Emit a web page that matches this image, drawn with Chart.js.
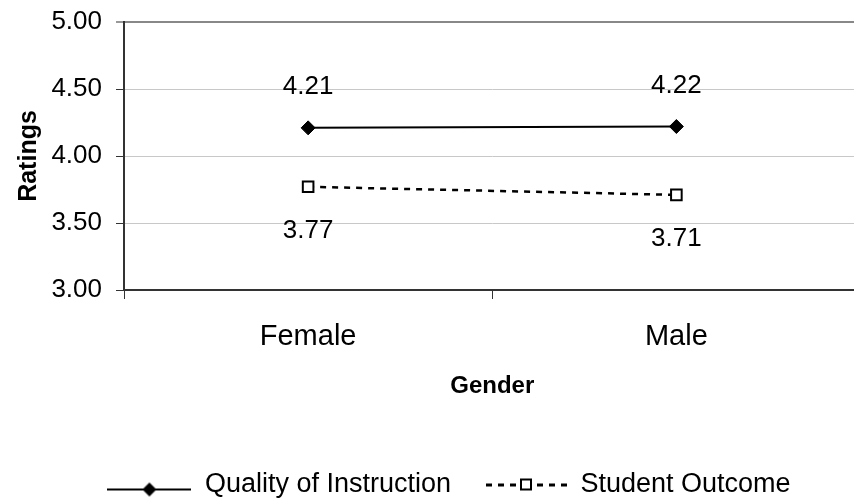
<!DOCTYPE html>
<html>
<head>
<meta charset="utf-8">
<script src="https://cdn.jsdelivr.net/npm/chart.js@4"></script>
<style>
  html, body { margin: 0; padding: 0; background: #fff; overflow: hidden; }
  #wrap { width: 870px; height: 508px; }
</style>
</head>
<body>
<div id="wrap"><canvas id="ratingsChart"></canvas></div>
<script>
const genders = ['Female', 'Male'];
const qualityOfInstruction = [4.21, 4.22];
const studentOutcome = [3.77, 3.71];
const ratingTicks = [3.00, 3.50, 4.00, 4.50, 5.00];

Chart.defaults.font.family = '"Liberation Sans", Arial, sans-serif';
Chart.defaults.color = '#000';

// legend swatches: line with marker, like the spreadsheet legend
function legendIcon(kind) {
  let c = document.createElement('canvas');
  c.width = 84;
  c.height = 40;
  let g = c.getContext('2d');
  g.fillStyle = '#000';
  if (kind === 'diamond') {
    g.fillRect(0, 24, 84, 2);
    g.beginPath();
    g.moveTo(42, 18); g.lineTo(49, 25); g.lineTo(42, 32); g.lineTo(35, 25);
    g.closePath();
    g.fill();
  } else {
    [3, 15, 27, 54, 66, 78].forEach(x => g.fillRect(x, 19, 6, 3));
    g.fillStyle = '#fff';
    g.fillRect(38, 15, 10, 10);
    g.strokeStyle = '#000';
    g.lineWidth = 2;
    g.strokeRect(38, 15, 10, 10);
  }
  return c;
}
const legendIcons = [legendIcon('diamond'), legendIcon('square')];

const valueLabels = {
  id: 'valueLabels',
  afterDatasetsDraw(chart) {
    let ctx = chart.ctx;
    ctx.save();
    ctx.font = '26px "Liberation Sans", Arial, sans-serif';
    ctx.fillStyle = '#000';
    ctx.textAlign = 'center';
    ctx.textBaseline = 'alphabetic';
    chart.data.datasets.forEach((ds, i) => {
      chart.getDatasetMeta(i).data.forEach((pt, j) => {
        ctx.fillText(ds.data[j].toFixed(2), pt.x, pt.y + ds.labelOffset);
      });
    });
    ctx.restore();
  }
};

// nudge the legend a little right, as in the original
const legendShift = {
  id: 'legendShift',
  afterLayout(chart) {
    chart.legend.left += 18;
    chart.legend.right += 18;
  }
};

let ctx = document.getElementById('ratingsChart').getContext('2d');
let ratingsChart = new Chart(ctx, {
  type: 'line',
  data: {
    labels: genders,
    datasets: [{
      label: 'Quality of Instruction',
      data: qualityOfInstruction,
      borderColor: '#000',
      borderWidth: 2,
      pointStyle: 'rectRot',
      pointRadius: 7,
      pointBackgroundColor: '#000',
      pointBorderColor: '#000',
      pointBorderWidth: 1,
      labelOffset: -34
    }, {
      label: 'Student Outcome',
      data: studentOutcome,
      borderColor: '#000',
      borderWidth: 2.5,
      borderDash: [6, 6],
      pointStyle: 'rect',
      pointRadius: 7.5,
      pointBackgroundColor: '#fff',
      pointBorderColor: '#000',
      pointBorderWidth: 2,
      labelOffset: 51
    }]
  },
  options: {
    responsive: true,
    maintainAspectRatio: false,
    animation: false,
    layout: {
      padding: { top: 22, right: 8, bottom: 0, left: 0 }
    },
    scales: {
      x: {
        offset: true,
        afterFit: (scale) => { scale.height = 149; },
        grid: {
          offset: true,
          drawOnChartArea: false,
          tickLength: 9,
          tickColor: '#333',
          tickWidth: 1
        },
        border: { color: '#333', width: 2 },
        ticks: { padding: 21, font: { size: 29 } },
        title: {
          display: true,
          text: 'Gender',
          font: { size: 24, weight: 'bold' },
          padding: { top: 0, bottom: 38 }
        }
      },
      y: {
        min: ratingTicks[0],
        max: ratingTicks[ratingTicks.length - 1],
        afterFit: (scale) => {
          scale.width = 124;
          scale.paddingTop = 0;
          scale.paddingBottom = 0;
        },
        afterBuildTicks: (scale) => { scale.ticks = ratingTicks.map(v => ({ value: v })); },
        grid: {
          color: (c) => c.tick && c.tick.value === 5 ? '#888' : '#c8c8c8',
          lineWidth: (c) => c.tick && c.tick.value === 5 ? 2 : 1,
          tickLength: 8,
          tickColor: '#333',
          tickWidth: 1
        },
        border: { color: '#333', width: 2 },
        ticks: {
          padding: 14,
          font: { size: 26 },
          callback: (v) => Number(v).toFixed(2)
        },
        title: {
          display: true,
          text: 'Ratings',
          font: { size: 25, weight: 'bold' },
          padding: { top: 14, bottom: 0 }
        }
      }
    },
    plugins: {
      tooltip: { enabled: false },
      legend: {
        display: true,
        position: 'bottom',
        labels: {
          usePointStyle: true,
          pointStyleWidth: 84,
          padding: 32,
          color: '#000',
          font: { size: 27 },
          generateLabels: (chart) => chart.data.datasets.map((ds, i) => ({
            text: ds.label,
            pointStyle: legendIcons[i],
            datasetIndex: i,
            fillStyle: 'transparent',
            strokeStyle: 'transparent',
            lineWidth: 0,
            hidden: false,
            fontColor: '#000'
          }))
        }
      }
    }
  },
  plugins: [valueLabels, legendShift]
});
</script>
</body>
</html>
